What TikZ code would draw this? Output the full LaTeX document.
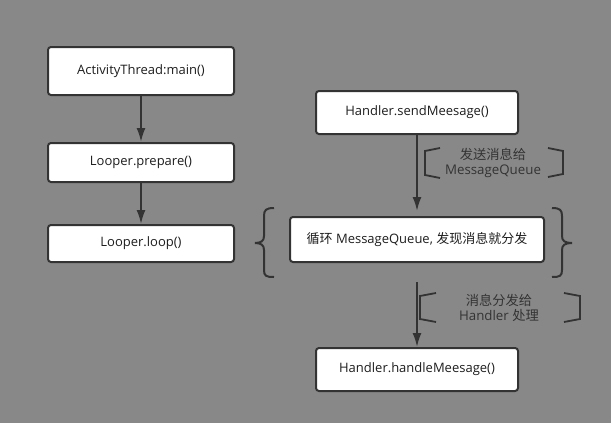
\documentclass[tikz,border=0pt]{standalone}
\usepackage{fontspec}
\setmainfont{Open Sans}
\newfontfamily\cjk{Noto Sans CJK SC}
\usetikzlibrary{arrows.meta}
\definecolor{bg}{HTML}{888888}
\definecolor{ln}{HTML}{333333}
\definecolor{tx}{HTML}{1E1E1E}
\definecolor{lb}{HTML}{333333}
\begin{document}
\begin{tikzpicture}[x=1pt,y=-1pt,
  box/.style={draw=ln,line width=2pt,fill=white,rounded corners=3pt,inner sep=0pt,
    text=tx,font=\fontsize{13}{16}\selectfont,anchor=center},
  arr/.style={draw=ln,line width=2pt,-{Latex[length=14pt,width=9pt]}},
  brk/.style={draw=ln,line width=1.8pt,line join=miter},
  lbl/.style={text=lb,font=\fontsize{13.3}{15}\selectfont,align=center,inner sep=0pt}]
\fill[bg] (0,0) rectangle (611,423);
\useasboundingbox (0,0) rectangle (611,423);
\node[box,minimum width=186pt,minimum height=48pt] (b1) at (141,71) {ActivityThread:main()};
\node[box,minimum width=186pt,minimum height=39pt] (b2) at (141,162.5) {Looper.prepare()};
\node[box,minimum width=186pt,minimum height=37pt] (b3) at (141,243.5) {Looper.loop()};
\node[box,minimum width=202pt,minimum height=43pt] (b4) at (417,112.5) {Handler.sendMeesage()};
\node[box,minimum width=254pt,minimum height=45pt] (b5) at (417,239.5) {{\cjk 循环} MessageQueue, {\cjk 发现消息就分发}};
\node[box,minimum width=202pt,minimum height=43pt] (b6) at (417,369.5) {Handler.handleMeesage()};
\draw[arr] (b1) -- (b2);
\draw[arr] (b2) -- (b3);
\draw[arr,shorten >=5pt] (b4) -- (b5);
\coordinate (s6) at (417,282);
\draw[arr] (s6) -- (b6);
% labels
\node[lbl] (l1) at (493,162.5) {{\cjk 发送消息给}\\MessageQueue};
\node[lbl] (l2) at (499,307.5) {{\cjk 消息分发给}\\Handler {\cjk 处理}};
% small brackets
\draw[brk] (440,148) -- (425,151) -- (425,175) -- (440,178);
\draw[brk] (548,148) -- (563,151) -- (563,174) -- (548,177);
\draw[brk] (436,293) -- (420,296) -- (420,319) -- (436,322);
\draw[brk] (564,293) -- (580,296) -- (580,319) -- (564,322);
% curly braces
\draw[brk,line width=2pt] (274,208) .. controls (266,208) and (264,210) .. (264,216)
  -- (264,236) .. controls (264,241) and (261,243) .. (255,243)
  .. controls (261,243) and (264,245) .. (264,250)
  -- (264,270) .. controls (264,276) and (266,277) .. (274,277);
\draw[brk,line width=2pt] (552,208) .. controls (560,208) and (562,210) .. (562,216)
  -- (562,236) .. controls (562,241) and (565,243) .. (572,243)
  .. controls (565,243) and (562,245) .. (562,250)
  -- (562,270) .. controls (562,276) and (560,277) .. (552,277);
\end{tikzpicture}
\end{document}
